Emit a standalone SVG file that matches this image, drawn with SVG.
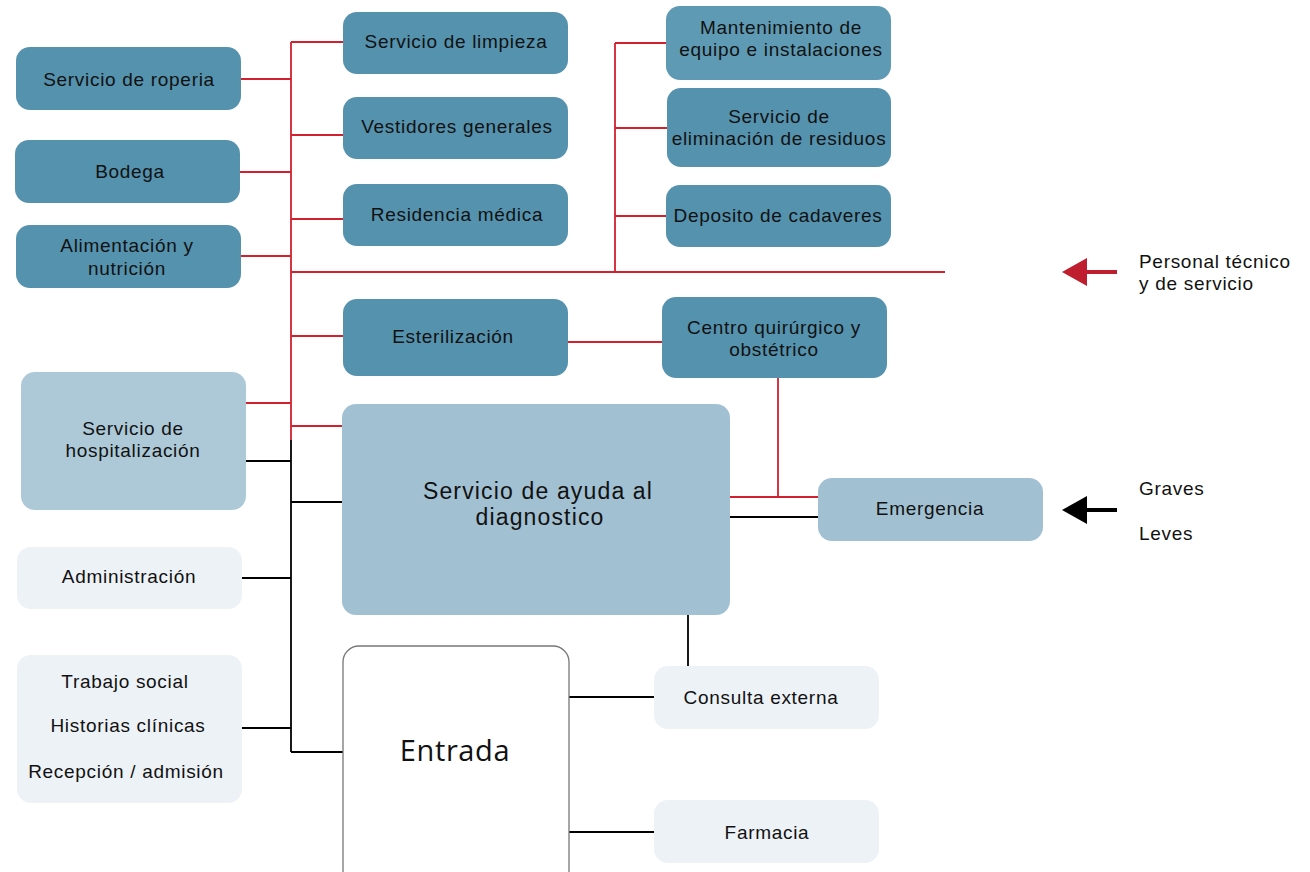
<svg xmlns="http://www.w3.org/2000/svg" width="1310" height="872" viewBox="0 0 1310 872">
  <style>
    text { font-family: "Liberation Sans", Arial, sans-serif; font-size: 19px; letter-spacing: 0.7px; fill: #111; text-anchor: middle; }
    .big { font-size: 23px; letter-spacing: 1.15px; }
    .huge { font-family: "Open Sans", "Liberation Sans", sans-serif; font-size: 29px; letter-spacing: 0.6px; }
    .dark { fill: #5592ae; }
    .mid { fill: #a1c0d2; }
    .soft { fill: #adc9d8; }
    .pale { fill: #edf2f7; }
    .entry { fill: #fff; stroke: #777; stroke-width: 1.3; }
    .red { stroke: #d2202f; stroke-width: 1.8; fill: none; }
    .blk { stroke: #000; stroke-width: 1.8; fill: none; }
    .note { text-anchor: start; }
  </style>

  <!-- connectors -->
  <g id="connectors">
    <!-- red service trunk -->
    <path class="red" d="M291 42 V440"/>
    <path class="red" d="M291 42 H343"/>
    <path class="red" d="M241 79 H291"/>
    <path class="red" d="M291 135 H343"/>
    <path class="red" d="M240 172 H291"/>
    <path class="red" d="M291 219 H343"/>
    <path class="red" d="M241 256 H291"/>
    <path class="red" d="M291 272 H945"/>
    <path class="red" d="M615 43 V272"/>
    <path class="red" d="M615 43 H666"/>
    <path class="red" d="M615 128 H667"/>
    <path class="red" d="M615 216 H666"/>
    <path class="red" d="M291 336 H343"/>
    <path class="red" d="M246 403 H291"/>
    <path class="red" d="M291 426 H342"/>
    <path class="red" d="M568 342 H662"/>
    <path class="red" d="M778 378 V497"/>
    <path class="red" d="M730 497 H818"/>
    <!-- black public trunk -->
    <path class="blk" d="M291 440 V752"/>
    <path class="blk" d="M246 461 H291"/>
    <path class="blk" d="M291 502 H342"/>
    <path class="blk" d="M242 578 H291"/>
    <path class="blk" d="M242 728 H291"/>
    <path class="blk" d="M291 752 H343"/>
    <path class="blk" d="M730 517 H818"/>
    <path class="blk" d="M688 615 V666"/>
    <path class="blk" d="M569 697 H654"/>
    <path class="blk" d="M569 832 H654"/>
    <!-- access arrows -->
    <path d="M1117 272 H1084" stroke="#be1e2d" stroke-width="4"/>
    <polygon points="1062,272 1087,258 1087,286" fill="#be1e2d"/>
    <path d="M1117 510 H1084" stroke="#000" stroke-width="4"/>
    <polygon points="1062,510 1087,496 1087,524" fill="#000"/>
  </g>

  <g id="roperia"><rect class="dark" x="16" y="47" width="225" height="63" rx="14"/><text x="129" y="86">Servicio de roperia</text></g>
  <g id="bodega"><rect class="dark" x="15" y="140" width="225" height="63" rx="14"/><text x="130" y="178">Bodega</text></g>
  <g id="alimentacion"><rect class="dark" x="16" y="225" width="225" height="63" rx="14"/><text x="127" y="252">Alimentación y</text><text x="127" y="275">nutrición</text></g>
  <g id="limpieza"><rect class="dark" x="343" y="12" width="225" height="62" rx="14"/><text x="456" y="48">Servicio de limpieza</text></g>
  <g id="vestidores"><rect class="dark" x="343" y="97" width="225" height="62" rx="14"/><text x="457" y="133">Vestidores generales</text></g>
  <g id="residencia"><rect class="dark" x="343" y="184" width="225" height="62" rx="14"/><text x="457" y="221">Residencia médica</text></g>
  <g id="mantenimiento"><rect x="666" y="6" width="225" height="74" rx="14" fill="#5e9ab4"/><text x="781" y="34">Mantenimiento de</text><text x="781" y="56">equipo e instalaciones</text></g>
  <g id="residuos"><rect class="dark" x="667" y="88" width="224" height="79" rx="14"/><text x="779" y="123">Servicio de</text><text x="779" y="145">eliminación de residuos</text></g>
  <g id="cadaveres"><rect class="dark" x="666" y="185" width="225" height="62" rx="14"/><text x="778" y="222">Deposito de cadaveres</text></g>
  <g id="esterilizacion"><rect class="dark" x="343" y="299" width="225" height="77" rx="14"/><text x="453" y="343">Esterilización</text></g>
  <g id="quirurgico"><rect class="dark" x="662" y="297" width="225" height="81" rx="14"/><text x="774" y="334">Centro quirúrgico y</text><text x="774" y="356">obstétrico</text></g>
  <g id="hospitalizacion"><rect class="soft" x="21" y="372" width="225" height="138" rx="14"/><text x="133" y="435">Servicio de</text><text x="133" y="457">hospitalización</text></g>
  <g id="diagnostico"><rect class="mid" x="342" y="404" width="388" height="211" rx="14"/><text class="big" x="538" y="499">Servicio de ayuda al</text><text class="big" x="540" y="525">diagnostico</text></g>
  <g id="emergencia"><rect class="mid" x="818" y="478" width="225" height="63" rx="14"/><text x="930" y="515">Emergencia</text></g>
  <g id="administracion"><rect class="pale" x="17" y="547" width="225" height="62" rx="14"/><text x="129" y="583">Administración</text></g>
  <g id="admision"><rect class="pale" x="17" y="655" width="225" height="148" rx="14"/><text x="125" y="688">Trabajo social</text><text x="128" y="732">Historias clínicas</text><text x="126" y="778">Recepción / admisión</text></g>
  <g id="entrada"><rect class="entry" x="343" y="646" width="226" height="240" rx="16"/><text class="huge" x="455" y="761">Entrada</text></g>
  <g id="consulta"><rect class="pale" x="654" y="666" width="225" height="63" rx="14"/><text x="761" y="704">Consulta externa</text></g>
  <g id="farmacia"><rect class="pale" x="654" y="800" width="225" height="63" rx="14"/><text x="767" y="839">Farmacia</text></g>

  <g id="labels">
    <text class="note" x="1139" y="268">Personal técnico</text>
    <text class="note" x="1139" y="290">y de servicio</text>
    <text class="note" x="1139" y="495">Graves</text>
    <text class="note" x="1139" y="540">Leves</text>
  </g>
</svg>
